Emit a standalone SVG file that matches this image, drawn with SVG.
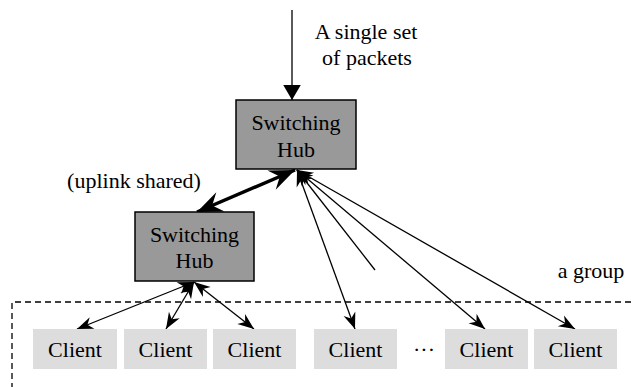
<svg xmlns="http://www.w3.org/2000/svg" width="631" height="387" viewBox="0 0 631 387">
<style>
text{font-family:'Liberation Serif','Times New Roman',Times,serif;font-size:22px;fill:#000}
.hub{fill:#999;stroke:#000;stroke-width:1.5}
.client{fill:#ddd;stroke:none}
.c{stroke:#000;stroke-width:1.3;fill:none}
.thick{stroke:#000;stroke-width:3.5;fill:none}
.dash{stroke:#000;stroke-width:1.3;fill:none;stroke-dasharray:6,4}
</style>
<defs>
<marker id="ah" markerUnits="userSpaceOnUse" markerWidth="20" markerHeight="20" viewBox="-14 -8 16 16" refX="0" refY="0" orient="auto-start-reverse">
<path d="M0,0 L-13,-5 L-9,0 L-13,5 Z" fill="#000"/>
</marker>
<marker id="ahT" markerUnits="userSpaceOnUse" markerWidth="30" markerHeight="30" viewBox="-18 -10 20 20" refX="0" refY="0" orient="auto-start-reverse">
<path d="M0,0 L-17,-7 L-11,0 L-17,7 Z" fill="#000"/>
</marker>
<marker id="ahTop" markerUnits="userSpaceOnUse" markerWidth="20" markerHeight="20" viewBox="-14 -8 16 16" refX="0" refY="0" orient="auto">
<path d="M0,0 L-12,-7 L-12,7 Z" fill="#000"/>
</marker>
</defs>
<g id="connectors">
<line class="c" x1="292" y1="10" x2="292" y2="100" marker-end="url(#ahTop)"/>
<line class="thick" x1="295" y1="170" x2="197" y2="212" marker-start="url(#ahT)" marker-end="url(#ahT)"/>
<line class="c" x1="194" y1="282" x2="77" y2="329" marker-start="url(#ah)" marker-end="url(#ah)"/>
<line class="c" x1="194" y1="282" x2="166" y2="329" marker-start="url(#ah)" marker-end="url(#ah)"/>
<line class="c" x1="194" y1="282" x2="254" y2="329" marker-start="url(#ah)" marker-end="url(#ah)"/>
<line class="c" x1="297" y1="170" x2="355" y2="329" marker-start="url(#ah)" marker-end="url(#ah)"/>
<line class="c" x1="297" y1="170" x2="375" y2="270" marker-start="url(#ah)"/>
<line class="c" x1="297" y1="170" x2="485" y2="329" marker-start="url(#ah)" marker-end="url(#ah)"/>
<line class="c" x1="297" y1="170" x2="575" y2="329" marker-start="url(#ah)" marker-end="url(#ah)"/>
</g>
<g id="group-box">
<path class="dash" d="M631,302 H12 V387"/>
<text x="591" y="278" text-anchor="middle" font-family="Liberation Serif, serif">a group</text>
</g>
<g id="label-packets">
<text x="366" y="39" text-anchor="middle">A single set</text>
<text x="367" y="65" text-anchor="middle">of packets</text>
</g>
<g id="label-uplink">
<text x="134" y="188" text-anchor="middle">(uplink shared)</text>
</g>
<g id="hub1">
<rect class="hub" x="236" y="100" width="120" height="69"/>
<text x="296" y="130" text-anchor="middle">Switching</text>
<text x="296" y="157" text-anchor="middle">Hub</text>
</g>
<g id="hub2">
<rect class="hub" x="135" y="212" width="119" height="69"/>
<text x="194.5" y="242" text-anchor="middle">Switching</text>
<text x="194.5" y="268" text-anchor="middle">Hub</text>
</g>
<g id="client1"><rect class="client" x="33" y="329" width="84" height="40"/><text x="75" y="357" text-anchor="middle">Client</text></g>
<g id="client2"><rect class="client" x="124" y="329" width="83" height="40"/><text x="165.5" y="357" text-anchor="middle">Client</text></g>
<g id="client3"><rect class="client" x="213" y="329" width="83" height="40"/><text x="254.5" y="357" text-anchor="middle">Client</text></g>
<g id="client4"><rect class="client" x="314" y="329" width="83" height="40"/><text x="355.5" y="357" text-anchor="middle">Client</text></g>
<g id="ellipsis"><text x="424" y="357" text-anchor="middle">···</text></g>
<g id="client5"><rect class="client" x="445" y="329" width="83" height="40"/><text x="486.5" y="357" text-anchor="middle">Client</text></g>
<g id="client6"><rect class="client" x="534" y="329" width="83" height="40"/><text x="575.5" y="357" text-anchor="middle">Client</text></g>
</svg>
